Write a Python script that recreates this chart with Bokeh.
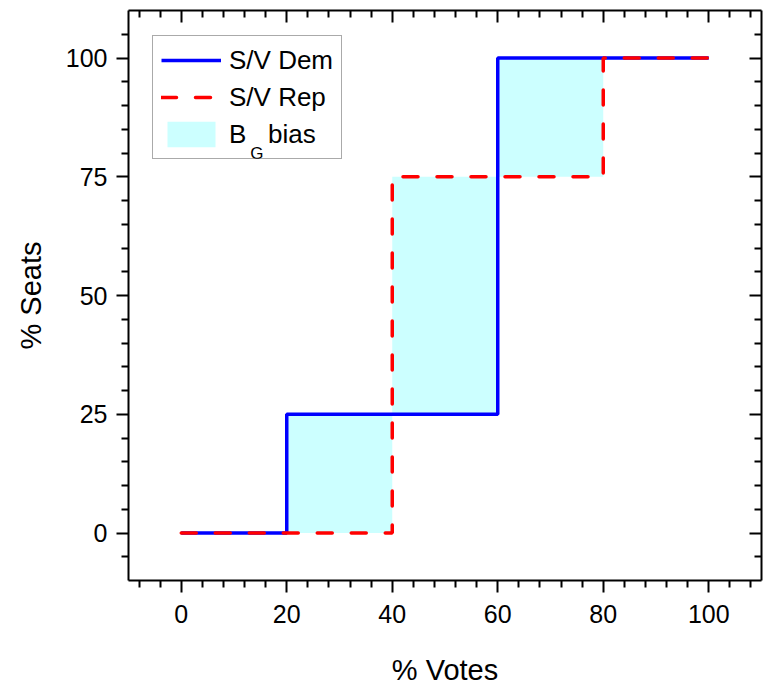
import numpy as np
from bokeh.plotting import figure
from bokeh.models import (LinearAxis, FixedTicker, Range1d, Legend, LegendItem, Label)
from bokeh.embed import file_html
from bokeh.resources import INLINE

# ---- data ----
votes = [0, 20, 40, 60, 80, 100]          # % votes (step break points)
dem_seats = [0, 25, 25, 100, 100, 100]    # S/V Dem (step, value after break)
rep_seats = [0, 0, 75, 75, 100, 100]      # S/V Rep (step, value after break)

x_major = [0, 20, 40, 60, 80, 100]
y_major = [0, 25, 50, 75, 100]
x_minor = [v for v in range(-8, 110, 4) if v % 20 != 0]
y_minor = [v for v in range(-5, 110, 5) if v % 25 != 0]

FONT = "Liberation Sans"

p = figure(width=765, height=688, output_backend="svg", toolbar_location=None,
           x_range=Range1d(-10, 110), y_range=Range1d(-10, 110),
           min_border_left=128, min_border_right=4, min_border_top=10, min_border_bottom=100)
p.outline_line_color = None
p.xgrid.visible = False
p.ygrid.visible = False
p.background_fill_color = "white"
p.border_fill_color = "white"

lo = np.minimum(dem_seats, rep_seats)
hi = np.maximum(dem_seats, rep_seats)
area = p.varea_step(x=votes, y1=lo, y2=hi, step_mode="after", fill_color="#CCFFFF")
dem = p.step(votes, dem_seats, mode="after", line_color="#0000FF", line_width=3.5)
rep = p.step(votes, rep_seats, mode="after", line_color="#FF0000", line_width=3.5,
             line_dash="15 19", line_cap="round")

def style_axis(ax, ticks, minor, labels=True):
    ax.ticker = FixedTicker(ticks=ticks, minor_ticks=minor)
    ax.axis_line_color = "black"
    ax.axis_line_width = 2
    ax.major_tick_line_color = "black"
    ax.major_tick_line_width = 2
    ax.minor_tick_line_color = "black"
    ax.minor_tick_line_width = 2
    if labels:
        ax.major_tick_out = 12
        ax.major_tick_in = 0
        ax.minor_tick_out = 7
        ax.minor_tick_in = 0
        ax.major_label_text_font = FONT
        ax.major_label_text_font_size = "25px"
        ax.major_label_text_color = "black"
        ax.axis_label_text_font = FONT
        ax.axis_label_text_font_size = "29px"
        ax.axis_label_text_font_style = "normal"
        ax.axis_label_text_color = "black"
    else:
        ax.major_tick_out = 0
        ax.major_tick_in = 12
        ax.minor_tick_out = 0
        ax.minor_tick_in = 7
        ax.major_label_overrides = {t: "" for t in ticks}
        ax.major_label_text_font_size = "1px"
        ax.major_label_standoff = 0

xa = p.xaxis[0]
ya = p.yaxis[0]
style_axis(xa, x_major, x_minor)
style_axis(ya, y_major, y_minor)
xa.axis_label = "% Votes"
ya.axis_label = "% Seats"
xa.major_label_standoff = 12
ya.major_label_standoff = 9
xa.axis_label_standoff = 28
ya.axis_label_standoff = 16

top = LinearAxis()
right = LinearAxis()
style_axis(top, x_major, x_minor, labels=False)
style_axis(right, y_major, y_minor, labels=False)
p.add_layout(top, "above")
p.add_layout(right, "right")

legend = Legend(items=[LegendItem(label="S/V Dem", renderers=[dem]),
                       LegendItem(label="S/V Rep", renderers=[rep]),
                       LegendItem(label="B   bias", renderers=[area])],
                location=(24, 421), padding=8, spacing=5,
                glyph_width=60, glyph_height=32, label_height=32,
                label_standoff=8, label_text_font=FONT, label_text_font_size="26px",
                label_text_color="black",
                border_line_color="#555555", border_line_width=1.5,
                background_fill_alpha=0.0, margin=0)
p.add_layout(legend, "center")

# subscript "G" of the B_G legend label
sub = Label(x=13.1, y=80.0, x_units="data", y_units="data", text="G",
            text_font=FONT, text_font_size="17px", text_color="black",
            text_align="left", text_baseline="middle")
p.add_layout(sub, "center")

open("out.html", "w").write(file_html(p, INLINE))
